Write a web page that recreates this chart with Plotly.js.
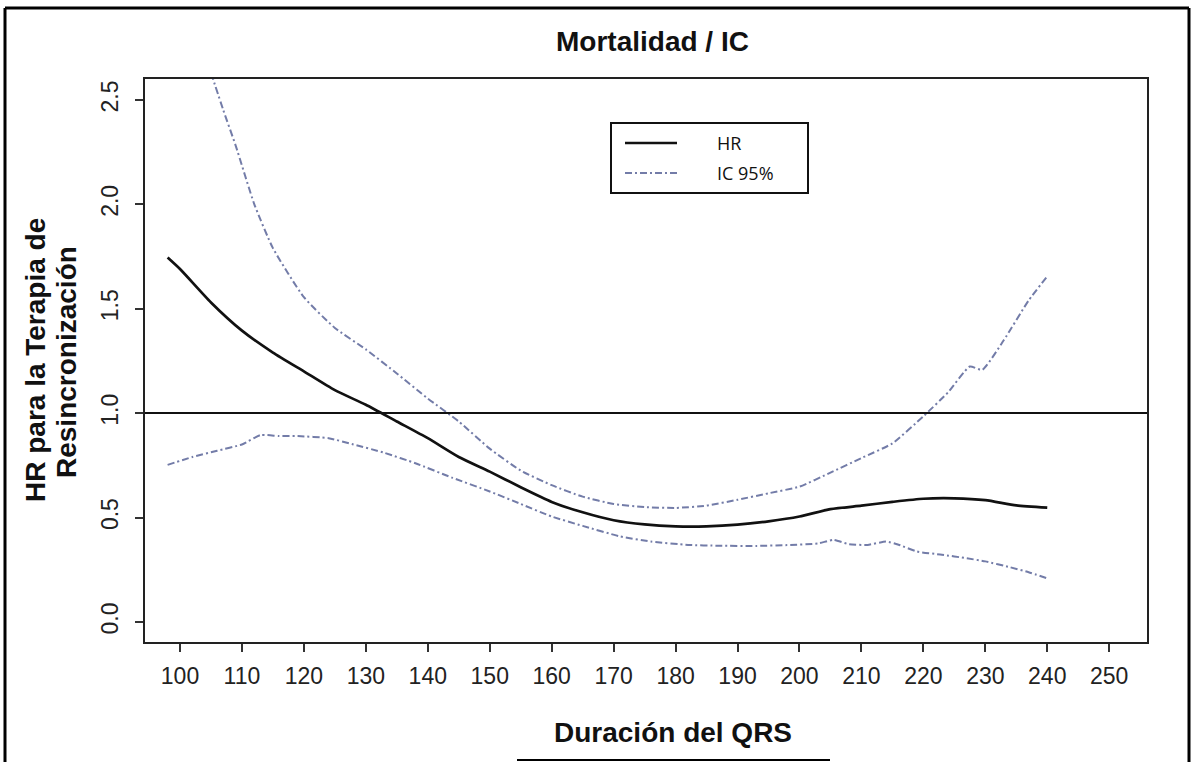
<!DOCTYPE html>
<html>
<head>
<meta charset="utf-8">
<script src="https://cdn.plot.ly/plotly-3.0.1.min.js"></script>
<style>html,body{margin:0;padding:0;background:#fff;}#chart{width:1192px;height:762px;}</style>
</head>
<body>
<div id="chart"></div>
<script>
// ---- data ----
const hrX = [98, 100, 105, 110, 115, 120, 125, 130, 135, 140, 145, 150, 155, 160, 165, 170, 175, 180, 185, 190, 195, 200, 205, 210, 215, 220, 225, 230, 235, 240];
const hrY = [1.745, 1.69, 1.53, 1.395, 1.29, 1.20, 1.11, 1.04, 0.96, 0.88, 0.79, 0.72, 0.645, 0.575, 0.525, 0.487, 0.467, 0.458, 0.458, 0.466, 0.482, 0.505, 0.54, 0.557, 0.575, 0.59, 0.592, 0.583, 0.558, 0.547];

const upX = [105, 107, 109, 112, 115, 120, 125, 130, 135, 140, 145, 150, 155, 160, 165, 170, 175, 180, 185, 190, 195, 200, 205, 210, 215, 220, 224, 227.5, 229.5, 233, 237, 240];
const upY = [2.63, 2.45, 2.28, 2.0, 1.79, 1.555, 1.408, 1.305, 1.19, 1.07, 0.96, 0.83, 0.725, 0.655, 0.60, 0.565, 0.55, 0.546, 0.557, 0.585, 0.616, 0.648, 0.715, 0.785, 0.855, 0.985, 1.10, 1.223, 1.207, 1.35, 1.54, 1.655];

const loX = [98, 102, 106, 110, 113, 116, 119, 124, 128, 133, 138, 144, 150, 155, 160, 165, 171, 176, 182, 187, 193, 198, 203, 205.5, 208, 211, 214, 216, 219, 223, 227, 230, 234, 237, 240];
const loY = [0.752, 0.79, 0.82, 0.85, 0.895, 0.89, 0.89, 0.88, 0.85, 0.81, 0.76, 0.69, 0.625, 0.565, 0.505, 0.46, 0.41, 0.385, 0.369, 0.365, 0.364, 0.368, 0.376, 0.393, 0.372, 0.369, 0.385, 0.37, 0.337, 0.322, 0.305, 0.29, 0.262, 0.238, 0.209];

const refLine = 1.0;
const xTicks = [100, 110, 120, 130, 140, 150, 160, 170, 180, 190, 200, 210, 220, 230, 240, 250];
const yTicks = [0, 0.5, 1.0, 1.5, 2.0, 2.5];
const yTickText = ["0.0", "0.5", "1.0", "1.5", "2.0", "2.5"];
const legendNames = ["HR", "IC 95%"];
const titleText = "Mortalidad / IC";
const xTitle = "Duración del QRS";
const yTitle1 = "HR para la Terapia de";
const yTitle2 = "Resincronización";

// ---- styles ----
const ciColor = "#737ca8";
const ciDash = "7px,3px,2px,3px";
const font = "Arial, 'Liberation Sans', sans-serif";

const traces = [
  {x: hrX, y: hrY, type: "scatter", mode: "lines", name: legendNames[0],
   line: {color: "#111", width: 2.7, shape: "spline", smoothing: 0.6}},
  {x: upX, y: upY, type: "scatter", mode: "lines", name: legendNames[1],
   line: {color: ciColor, width: 2, dash: ciDash, shape: "spline", smoothing: 0.5}},
  {x: loX, y: loY, type: "scatter", mode: "lines", name: legendNames[1],
   line: {color: ciColor, width: 2, dash: ciDash, shape: "spline", smoothing: 0.5}}
];

const axisCommon = {
  showline: true, linecolor: "#222", linewidth: 2, mirror: true,
  ticks: "outside", ticklen: 8, tickwidth: 2, tickcolor: "#333",
  showgrid: false, zeroline: false,
  tickfont: {family: font, size: 23, color: "#222"}
};

// paper helpers (plot area: x 145..1147, y 79..642)
const L = 145, R = 1147, T = 79, B = 642;
const px = v => (v - L) / (R - L);
const py = v => (B - v) / (B - T);

const layout = {
  width: 1192, height: 762, autosize: false,
  margin: {l: L, r: 1192 - R, t: T, b: 762 - B, pad: 0},
  paper_bgcolor: "#fff", plot_bgcolor: "#fff",
  showlegend: false,
  xaxis: Object.assign({}, axisCommon, {range: [94.35, 256.1], tickvals: xTicks, ticklabelstandoff: 4}),
  yaxis: Object.assign({}, axisCommon, {range: [-0.096, 2.60], tickvals: yTicks, ticktext: yTickText, tickangle: -90, ticklabelstandoff: 8}),
  shapes: [
    {type: "line", xref: "paper", yref: "y", x0: 0, x1: 1, y0: refLine, y1: refLine, line: {color: "#111", width: 2}},
    // legend box
    {type: "rect", xref: "paper", yref: "paper", x0: px(611), x1: px(808), y0: py(193), y1: py(123), line: {color: "#111", width: 2}, fillcolor: "rgba(0,0,0,0)"},
    {type: "line", xref: "paper", yref: "paper", x0: px(625), x1: px(677), y0: py(143), y1: py(143), line: {color: "#111", width: 2.5}},
    {type: "line", xref: "paper", yref: "paper", x0: px(625), x1: px(677), y0: py(173), y1: py(173), line: {color: ciColor, width: 2, dash: ciDash}},
    // outer frame
    {type: "line", xref: "paper", yref: "paper", x0: px(5), x1: px(5), y0: py(8), y1: py(762), line: {color: "#000", width: 3}},
    {type: "line", xref: "paper", yref: "paper", x0: px(5), x1: px(1189), y0: py(8), y1: py(8), line: {color: "#000", width: 3}},
    {type: "line", xref: "paper", yref: "paper", x0: px(1189), x1: px(1189), y0: py(8), y1: py(762), line: {color: "#000", width: 3}},
    {type: "line", xref: "paper", yref: "paper", x0: px(517), x1: px(830), y0: py(760), y1: py(760), line: {color: "#000", width: 2}}
  ],
  annotations: [
    {text: "<b>" + titleText + "</b>", xref: "paper", yref: "paper", x: px(652), y: py(42), xanchor: "center", yanchor: "middle", showarrow: false, font: {family: font, size: 28, color: "#111"}},
    {text: "<b>" + xTitle + "</b>", xref: "paper", yref: "paper", x: px(673), y: py(732), xanchor: "center", yanchor: "middle", showarrow: false, font: {family: font, size: 28, color: "#111"}},
    {text: "<b>" + yTitle1 + "</b>", xref: "paper", yref: "paper", x: px(35), y: py(360), xanchor: "center", yanchor: "middle", textangle: -90, showarrow: false, font: {family: font, size: 28, color: "#111"}},
    {text: "<b>" + yTitle2 + "</b>", xref: "paper", yref: "paper", x: px(67), y: py(362), xanchor: "center", yanchor: "middle", textangle: -90, showarrow: false, font: {family: font, size: 28, color: "#111"}},
    {text: legendNames[0], xref: "paper", yref: "paper", x: px(715), y: py(143), xanchor: "left", yanchor: "middle", showarrow: false, font: {family: "'Open Sans', sans-serif", size: 18, color: "#111"}},
    {text: legendNames[1], xref: "paper", yref: "paper", x: px(715), y: py(173), xanchor: "left", yanchor: "middle", showarrow: false, font: {family: "'Open Sans', sans-serif", size: 18, color: "#111"}}
  ]
};

Plotly.newPlot("chart", traces, layout, {staticPlot: true, displayModeBar: false});
</script>
</body>
</html>
